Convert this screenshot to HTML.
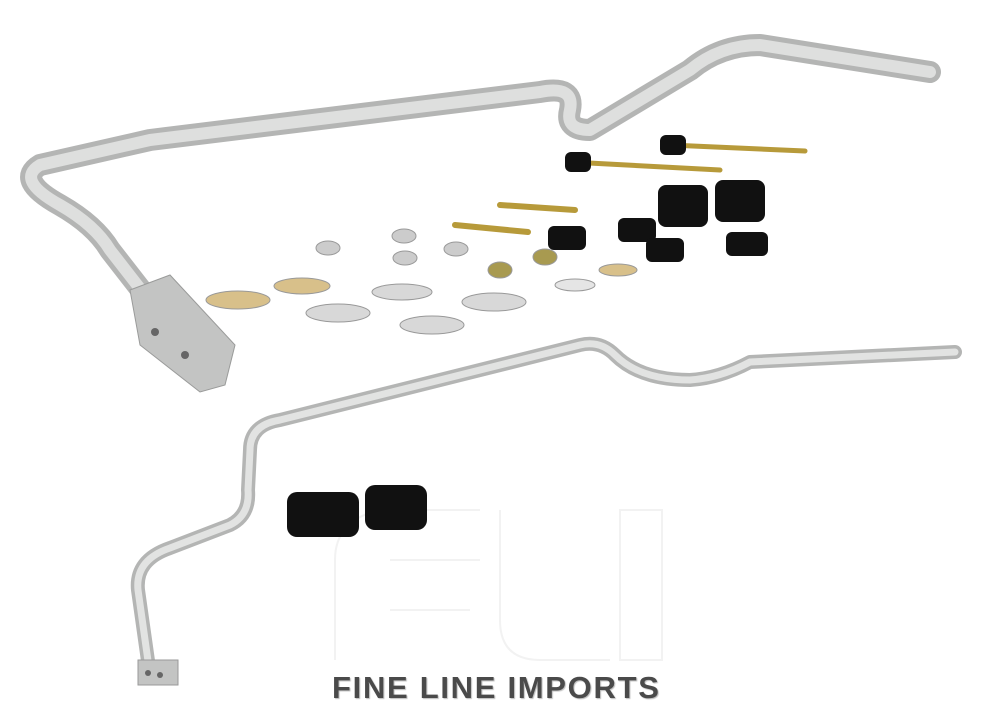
<!DOCTYPE html>
<html><head><style>
html,body{margin:0;padding:0;background:#fff;width:1000px;height:715px;overflow:hidden}
.t{position:absolute;left:332px;top:670px;font-family:"Liberation Sans",sans-serif;font-weight:bold;font-size:31px;color:#4a4a4a;letter-spacing:1.7px;white-space:nowrap;text-shadow:1px 1px 1px #bbb}
</style></head><body>
<svg width="1000" height="715" style="position:absolute;left:0;top:0">
<g fill="none" stroke="#f2f2f2" stroke-width="2">
<path d="M335 660 V560 Q335 520 380 510 H480 M390 560 H480 M390 610 H470"/>
<path d="M500 510 V620 Q500 660 540 660 H610"/>
<rect x="620" y="510" width="42" height="150"/>
</g>
<g fill="none" stroke-linecap="round" stroke-linejoin="round">
<path d="M180 340 L110 250 Q95 225 60 205 Q15 180 40 165 L150 140 L540 92 Q575 85 570 110 Q565 130 590 130 L690 70 Q720 45 760 45 L930 72" stroke="#b4b5b4" stroke-width="22"/>
<path d="M180 340 L110 250 Q95 225 60 205 Q15 180 40 165 L150 140 L540 92 Q575 85 570 110 Q565 130 590 130 L690 70 Q720 45 760 45 L930 72" stroke="#dedfde" stroke-width="12"/>
</g>
<polygon points="130,290 170,275 235,345 225,385 200,392 140,345" fill="#c3c4c3" stroke="#9a9b9a"/>
<circle cx="155" cy="332" r="4" fill="#666"/><circle cx="185" cy="355" r="4" fill="#666"/>
<g fill="none" stroke-linecap="round" stroke-linejoin="round">
<path d="M150 675 L138 590 Q135 560 170 548 L230 525 Q250 515 248 490 L250 450 Q250 425 280 420 L580 345 Q600 340 615 355 Q640 380 690 380 Q720 378 750 362 L955 352" stroke="#b4b5b4" stroke-width="14"/>
<path d="M150 675 L138 590 Q135 560 170 548 L230 525 Q250 515 248 490 L250 450 Q250 425 280 420 L580 345 Q600 340 615 355 Q640 380 690 380 Q720 378 750 362 L955 352" stroke="#e2e3e2" stroke-width="7"/>
</g>
<rect x="138" y="660" width="40" height="25" fill="#c3c4c3" stroke="#999"/>
<circle cx="148" cy="673" r="3" fill="#666"/><circle cx="160" cy="675" r="3" fill="#666"/>
<g stroke-linecap="round">
<line x1="500" y1="205" x2="575" y2="210" stroke="#b79a3a" stroke-width="6"/>
<line x1="455" y1="225" x2="528" y2="232" stroke="#b79a3a" stroke-width="6"/>
<line x1="570" y1="162" x2="720" y2="170" stroke="#b79a3a" stroke-width="5"/>
<line x1="670" y1="145" x2="805" y2="151" stroke="#b79a3a" stroke-width="5"/>
</g>
<g fill="#111">
<rect x="565" y="152" width="26" height="20" rx="6"/><rect x="660" y="135" width="26" height="20" rx="6"/>
<rect x="715" y="180" width="50" height="42" rx="8"/><rect x="658" y="185" width="50" height="42" rx="8"/>
<rect x="548" y="226" width="38" height="24" rx="6"/><rect x="618" y="218" width="38" height="24" rx="6"/>
<rect x="646" y="238" width="38" height="24" rx="6"/><rect x="726" y="232" width="42" height="24" rx="6"/>
<rect x="287" y="492" width="72" height="45" rx="10"/><rect x="365" y="485" width="62" height="45" rx="10"/>
</g>
<g stroke="#999">
<ellipse cx="238" cy="300" rx="32" ry="9" fill="#d8c08a"/>
<ellipse cx="302" cy="286" rx="28" ry="8" fill="#d8c08a"/>
<ellipse cx="338" cy="313" rx="32" ry="9" fill="#d8d8d8"/>
<ellipse cx="402" cy="292" rx="30" ry="8" fill="#d8d8d8"/>
<ellipse cx="432" cy="325" rx="32" ry="9" fill="#d8d8d8"/>
<ellipse cx="494" cy="302" rx="32" ry="9" fill="#d8d8d8"/>
<ellipse cx="575" cy="285" rx="20" ry="6" fill="#e5e5e5"/>
<ellipse cx="618" cy="270" rx="19" ry="6" fill="#d8c08a"/>
<ellipse cx="328" cy="248" rx="12" ry="7" fill="#ccc"/>
<ellipse cx="404" cy="236" rx="12" ry="7" fill="#ccc"/>
<ellipse cx="405" cy="258" rx="12" ry="7" fill="#ccc"/>
<ellipse cx="456" cy="249" rx="12" ry="7" fill="#ccc"/>
<ellipse cx="500" cy="270" rx="12" ry="8" fill="#a89a50"/>
<ellipse cx="545" cy="257" rx="12" ry="8" fill="#a89a50"/>
</g>
</svg>
<div class="t">FINE LINE IMPORTS</div>
</body></html>
